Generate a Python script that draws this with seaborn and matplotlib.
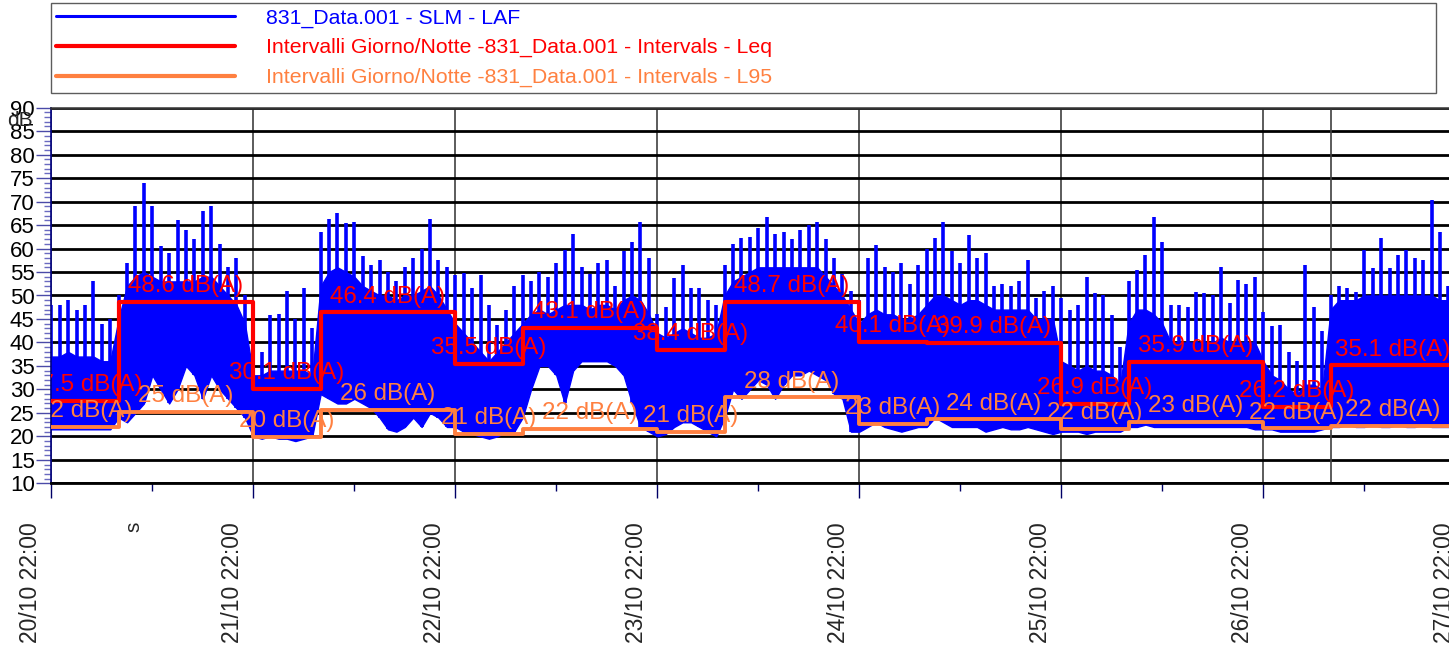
import numpy as np
import pandas as pd
import seaborn as sns
import matplotlib
matplotlib.use("Agg")
import matplotlib.pyplot as plt
from matplotlib.lines import Line2D
from matplotlib.ticker import MultipleLocator, FixedLocator
from matplotlib.transforms import ScaledTranslation

# ---------------- data (hourly envelope of LAF, starting 20/10 22:00) ----------------
laf_low = [
    21.5, 21.5, 21.5, 21.5, 21.5, 21.5, 21.5, 21.5,
    24, 23, 25, 27, 33, 30, 27, 30, 35, 33, 28, 33, 30, 28, 26, 24,
    20, 19.5, 20, 19.5, 19.5, 19, 19.5, 20,
    29, 28, 27, 27, 28, 27, 26, 24, 21.5, 21, 22, 24, 22, 25, 24, 22,
    22, 21, 20.5, 20, 19.5, 20, 21, 21,
    24, 30, 35, 35, 33, 27, 34, 36, 36, 36, 36, 35, 33, 27, 22, 21,
    20, 20.5, 22, 23, 23, 22, 21, 20,
    24, 30, 28, 30, 32, 31, 28, 31, 33, 33, 34, 33, 32, 29, 28, 21,
    21, 22, 23, 22, 21.5, 21, 21.5, 22,
    22, 24, 23, 22, 22, 22, 22, 21, 21.5, 22, 21.5, 21.5, 22, 21.5, 21, 20.5,
    21, 21, 21, 20.5, 21, 21, 21, 21,
    22, 22, 22.5, 22, 22, 22, 22, 22, 22, 22, 22, 22, 22, 22, 22, 21.5,
    21.5, 21.5, 21, 21, 21, 21, 21, 21.5,
    22, 22, 22.5, 22, 22, 22.5, 22, 22, 22.5, 22, 22, 22.5, 22, 22, 22,
]
laf_body = [
    37, 37, 38, 37, 37, 37, 36, 36,
    45, 52, 54, 55, 54, 53, 53, 53, 53, 53, 54, 54, 52, 50, 48, 44,
    33, 33, 34, 34, 34, 34, 34, 33,
    52, 55, 56, 55, 54, 52, 51, 50, 50, 49, 50, 50, 51, 52, 50, 47,
    44, 42, 40, 38, 36, 38, 40, 42,
    44, 46, 47, 46, 47, 48, 48, 48, 47, 48, 48, 47, 49, 50, 49, 46,
    42, 41, 42, 43, 42, 41, 41, 42,
    50, 53, 54, 55, 56, 56, 56, 56, 56, 56, 56, 56, 54, 52, 50, 47,
    44, 46, 47, 46, 46, 45, 45, 46,
    48, 50, 50, 49, 48, 49, 49, 48, 47, 47, 47, 47, 47, 45, 45, 45,
    36, 35, 34, 35, 34, 34, 33, 31,
    44, 47, 47, 46, 44, 40, 40, 40, 40, 40, 40, 41, 40, 40, 40, 40,
    36, 33, 32, 30, 29, 31, 31, 30,
    47, 49, 49, 49, 50, 50, 50, 50, 50, 50, 50, 50, 50, 49, 49,
]
laf_peak = [
    48, 48, 49, 47, 48, 53, 44, 45,
    50, 57, 69, 74, 69, 60.5, 59, 66, 64, 62, 68, 69, 61, 56, 58, 50,
    39, 38, 45.8, 46, 51, 45, 51.5, 43,
    63.6, 66.4, 67.5, 65.5, 65.7, 58.5, 56.5, 57.5, 55, 53, 56, 58, 60, 66.4, 57.5, 56,
    54.4, 54.8, 51.5, 54.4, 48, 43.7, 47, 52,
    54.4, 53, 55, 54, 57, 59.7, 63.2, 56, 54.5, 57, 57.5, 52, 59.5, 61.5, 65.7, 58,
    46, 47.5, 53.7, 56.5, 51.5, 51.5, 49, 48,
    56.5, 61, 62.2, 62.5, 64.3, 66.8, 63, 63.6, 62, 64, 65, 65.7, 62, 58, 54.5, 51,
    49, 58, 60.7, 56, 55, 57, 52.5, 56.5,
    60, 62.2, 65.7, 59.5, 57, 62.9, 58, 59, 52, 52.5, 52, 53, 57.6, 49.5, 51, 52,
    49.4, 47, 48, 54, 50.5, 50, 45.8, 39,
    53, 55.4, 58.6, 66.8, 61.5, 48, 48, 47.5, 50.8, 50.5, 50, 56.1, 48.5, 53.3, 52.5, 54,
    46.5, 43.5, 43.7, 38, 36, 56.5, 47.5, 42.5,
    50, 52, 51.5, 50.8, 59.7, 55.8, 62.2, 55.8, 58.6, 59.7, 57.9, 57.5, 70.3, 63.6, 52,
]

# day / night intervals (hours from 20/10 22:00)
interval_edges = [0, 8, 24, 32, 48, 56, 72, 80, 96, 104, 120, 128, 144, 152, 166.8]
leq_values = [27.5, 48.6, 30.1, 46.4, 35.5, 43.1, 38.4, 48.7, 40.1, 39.9, 26.9, 35.9, 26.2, 35.1]
l95_values = [22.0, 25.25, 19.9, 25.6, 20.6, 21.6, 21.0, 28.3, 22.6, 23.6, 21.5, 23.1, 21.7, 22.3]

tick_hours = [0, 24, 48, 72, 96, 120, 144, 168]
tick_labels = ["20/10 22:00", "21/10 22:00", "22/10 22:00", "23/10 22:00",
               "24/10 22:00", "25/10 22:00", "26/10 22:00", "27/10 22:00"]
extra_vline_hours = [152]

legend_labels = ["831_Data.001 - SLM - LAF",
                 "Intervalli Giorno/Notte -831_Data.001 - Intervals - Leq",
                 "Intervalli Giorno/Notte -831_Data.001 - Intervals - L95"]

BLUE, RED, ORANGE = "#0000ff", "#ff0000", "#ff8040"

# ---------------- figure ----------------
sns.set_theme(style="white")
plt.rcParams["font.family"] = ["Liberation Sans", "DejaVu Sans"]

W, H = 1449, 651
fig = plt.figure(figsize=(W / 100, H / 100), dpi=100)
ax = fig.add_axes([51.3 / W, (H - 483.3) / H, 1414 / W, 375.6 / H])

hours = np.arange(len(laf_low))
ax.fill_between(hours, laf_low, laf_body, color=BLUE, lw=1.0, zorder=2)
ax.vlines(hours, laf_low, laf_peak, color=BLUE, lw=2.6, zorder=2)

df_leq = pd.DataFrame({"h": interval_edges, "v": leq_values + [leq_values[-1]]})
df_l95 = pd.DataFrame({"h": interval_edges, "v": l95_values + [l95_values[-1]]})
sns.lineplot(data=df_leq, x="h", y="v", ax=ax, color=RED, lw=3.0,
             drawstyle="steps-post", zorder=4)
sns.lineplot(data=df_l95, x="h", y="v", ax=ax, color=ORANGE, lw=2.8,
             drawstyle="steps-post", zorder=4)

for i in range(len(leq_values)):
    xm = (interval_edges[i] + interval_edges[i + 1]) / 2
    ax.annotate(f"{leq_values[i]:.1f} dB(A)", (xm, leq_values[i]), xytext=(0, 3.5),
                textcoords="offset points", ha="center", va="bottom",
                color=RED, fontsize=17.4, zorder=6, annotation_clip=False)
    ax.annotate(f"{round(l95_values[i]):.0f} dB(A)", (xm, l95_values[i]), xytext=(0, 3.5),
                textcoords="offset points", ha="center", va="bottom",
                color=ORANGE, fontsize=17.4, zorder=6, annotation_clip=False)
for t in ax.texts:
    t.set_clip_on(True)
    t.set_clip_path(ax.patch)

ax.set_xlim(0, 168)
ax.set_ylim(10, 90)

# grid
ax.set_axisbelow(True)
ax.yaxis.set_major_locator(FixedLocator(list(range(10, 91, 5))))
ax.yaxis.set_minor_locator(MultipleLocator(1))
ax.set_yticklabels([str(v) for v in range(10, 91, 5)])
ax.xaxis.set_major_locator(FixedLocator(tick_hours))
ax.xaxis.set_minor_locator(MultipleLocator(12))
ax.set_xticklabels(tick_labels, rotation=90)
ax.grid(axis="y", which="major", color="black", lw=2.0, zorder=0)
ax.grid(axis="x", which="major", color="#404040", lw=1.2, zorder=0)
for h in extra_vline_hours:
    ax.axvline(h, color="#404040", lw=1.2, zorder=1)

ax.tick_params(axis="y", which="major", length=11, width=1, color="#4a4aa8",
               labelsize=16, pad=1, left=True, labelcolor="black")
ax.tick_params(axis="y", which="minor", length=5, width=1, color="#6a6ac0", left=True)
ax.tick_params(axis="x", which="major", length=11, width=1, color="#000066",
               labelsize=16.5, pad=17, bottom=True)
ax.tick_params(axis="x", which="minor", length=6, width=1, color="#000066", bottom=True)
for lab in ax.get_xticklabels():
    lab.set_transform(lab.get_transform() + ScaledTranslation(-0.21, 0, fig.dpi_scale_trans))

ax.spines["right"].set_visible(False)
ax.spines["left"].set_color("#000080")
ax.spines["left"].set_linewidth(1.2)
ax.spines["bottom"].set_color("black")
ax.spines["bottom"].set_linewidth(2)
ax.spines["top"].set_color("#333333")
ax.spines["top"].set_linewidth(1.8)
ax.set_xlabel("")
ax.set_ylabel("")

fig.text(7 / W, 1 - 121 / H, "dB", fontsize=15, va="center", ha="left")
fig.text(134 / W, 1 - 527 / H, "s", fontsize=15, rotation=90, ha="center", va="center")

handles = [Line2D([], [], color=BLUE, lw=2.2),
           Line2D([], [], color=RED, lw=3.0),
           Line2D([], [], color=ORANGE, lw=3.0)]
leg = fig.legend(handles, legend_labels, loc="upper left",
                 bbox_to_anchor=(51 / W, 1 - 93 / H, 1385 / W, 90 / H), mode="expand",
                 frameon=True, fancybox=False, edgecolor="#333333", fontsize=15.3,
                 handlelength=8.4, handletextpad=1.45, borderpad=0.25,
                 labelspacing=0.5, borderaxespad=0)
leg.get_frame().set_linewidth(1.0)
for txt, col in zip(leg.get_texts(), [BLUE, RED, ORANGE]):
    txt.set_color(col)

fig.savefig("out.png", dpi=100)
